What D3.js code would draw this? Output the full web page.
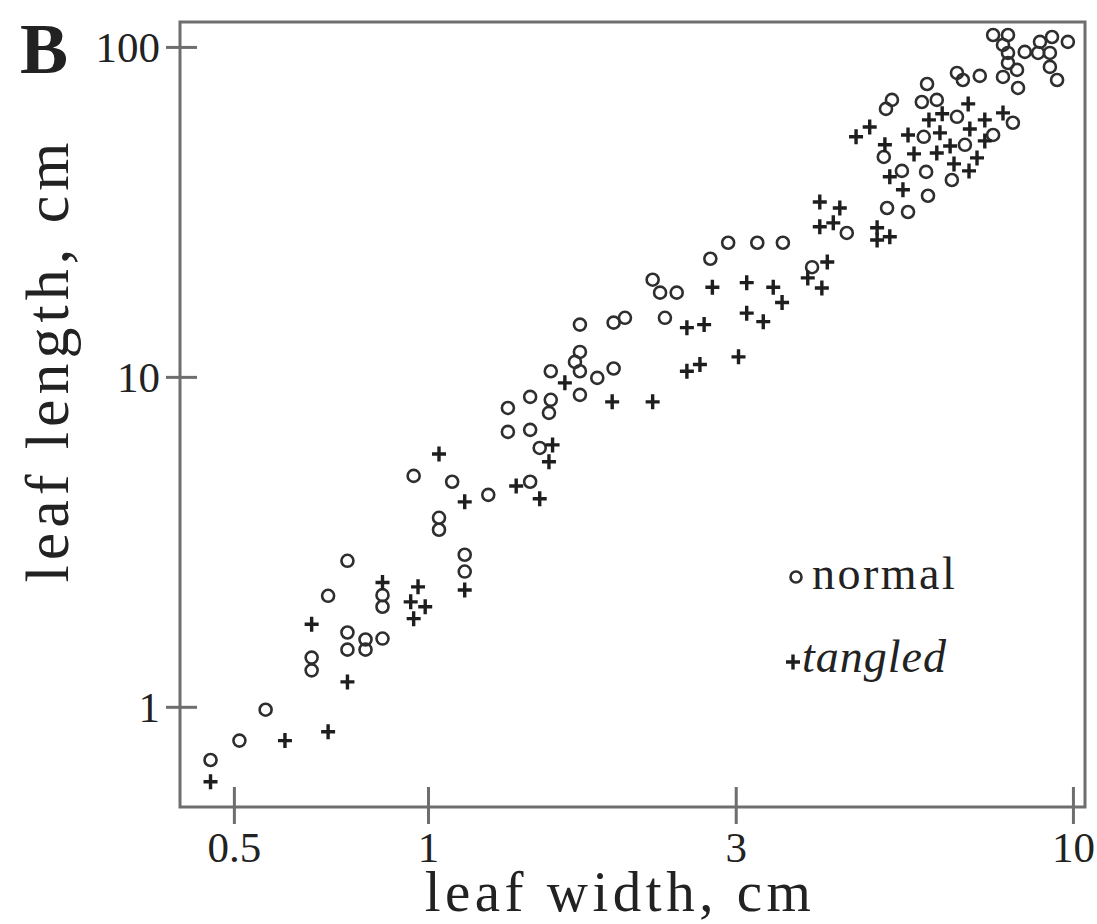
<!DOCTYPE html>
<html lang="en">
<head>
  <meta charset="UTF-8">
  <title>Leaf length vs leaf width</title>
  <script src="https://cdnjs.cloudflare.com/ajax/libs/d3/7.8.5/d3.min.js"></script>
  <style>
    body { margin: 0; background: #fff; }
    svg text { font-family: "Liberation Serif", "Times New Roman", serif; fill: #222; }
  </style>
</head>
<body>
<div id="chart"></div>
<script type="text/javascript">
  // values (cm)
  var normalWidth = [0.46, 0.51, 0.56, 0.70, 0.75, 0.66, 0.66, 0.75, 0.75, 0.80, 0.80, 0.85, 0.85, 0.85,
    1.14, 1.14, 1.04, 1.04, 0.95, 1.09, 1.24, 1.33, 1.33, 1.44, 1.44, 1.54, 1.49, 1.44, 1.55, 1.55,
    1.72, 1.69, 1.72, 1.83, 1.94, 1.72, 1.72, 1.94, 2.02, 2.23, 2.29, 2.43, 2.33, 2.74, 2.92, 3.24,
    3.55, 3.94, 4.46, 5.15, 5.13, 5.24, 5.94, 5.83, 6.15, 6.61, 6.75, 7.17, 7.79, 8.22, 6.61, 6.80,
    5.87, 5.09, 5.43, 5.92, 5.96, 6.49, 5.55, 8.07, 7.52, 7.52, 7.93, 7.79, 7.93, 8.42, 8.89, 9.28,
    9.82, 8.83, 9.21, 9.21, 9.45, 8.19, 7.93];
  var normalLength = [0.69, 0.79, 0.98, 2.17, 2.77, 1.41, 1.29, 1.68, 1.49, 1.60, 1.49, 1.61, 2.18, 2.01,
    2.89, 2.57, 3.74, 3.44, 5.01, 4.81, 4.39, 8.05, 6.81, 8.70, 6.91, 7.78, 6.09, 4.81, 10.4, 8.52,
    11.9, 11.1, 10.4, 9.93, 10.6, 8.82, 14.4, 14.6, 15.1, 19.7, 18.0, 18.0, 15.1, 22.8, 25.5, 25.5,
    25.5, 21.5, 27.3, 32.5, 64.9, 69.1, 77.2, 68.1, 69.1, 83.4, 79.4, 81.7, 81.1, 75.1, 61.4, 50.5,
    53.4, 46.4, 42.1, 41.8, 35.4, 39.5, 31.6, 58.9, 54.1, 108.7, 108.7, 101.4, 95.9, 96.6, 103.6, 107.2,
    103.6, 95.9, 95.9, 87.0, 79.4, 85.2, 89.4];

  var tangledWidth = [0.46, 0.60, 0.70, 0.66, 0.75, 0.85, 0.965, 0.94, 0.99, 0.95, 1.14, 1.04, 1.14, 1.37,
    1.49, 1.56, 1.54, 1.63, 1.93, 2.23, 2.52, 2.68, 2.76, 3.12, 3.43, 3.12, 3.31, 3.54, 3.03, 2.52,
    2.64, 4.05, 4.35, 4.05, 4.25, 4.16, 3.88, 4.08, 4.97, 4.97, 5.20, 4.61, 4.84, 5.11, 5.55, 5.67,
    5.98, 6.27, 6.88, 6.92, 6.45, 6.15, 6.54, 6.90, 7.10, 7.30, 7.30, 7.79, 5.45, 5.20, 6.22];
  var tangledLength = [0.593, 0.79, 0.84, 1.78, 1.19, 2.38, 2.31, 2.08, 2.01, 1.85, 2.26, 5.84, 4.18, 4.67,
    4.27, 6.22, 5.53, 9.59, 8.40, 8.40, 14.1, 14.4, 18.7, 19.3, 18.7, 15.6, 14.7, 16.8, 11.5, 10.4,
    10.9, 33.9, 32.5, 28.5, 29.3, 22.3, 19.95, 18.6, 28.3, 26.0, 26.6, 53.4, 57.2, 50.5, 54.1, 47.4,
    60.1, 62.7, 67.2, 56.4, 50.1, 47.7, 44.2, 42.1, 46.1, 51.9, 60.1, 63.1, 36.9, 40.4, 54.9];

  var xTicks = [0.5, 1, 3, 10];
  var yTicks = [1, 10, 100];
  var seriesNames = ["normal", "tangled"];

  var width = 1097;
  var height = 924;
  var plotLeft = 180, plotRight = 1085, plotTop = 22, plotBottom = 807;
  var ink = "#2e2e2e";
  var frame = "#6e6e6e";

  var svg = d3.select("#chart").append("svg")
    .attr("width", width)
    .attr("height", height);

  var x = d3.scaleLog().domain([0.4125, 10.44]).range([plotLeft, plotRight]);
  var y = d3.scaleLog().domain([0.497, 119]).range([plotBottom, plotTop]);

  // frame round the plot
  svg.append("rect")
    .attr("x", plotLeft)
    .attr("y", plotTop)
    .attr("width", plotRight - plotLeft)
    .attr("height", plotBottom - plotTop)
    .attr("fill", "none")
    .attr("stroke", frame)
    .attr("stroke-width", 3);

  var xAxis = svg.append("g")
    .attr("transform", "translate(0," + plotBottom + ")")
    .call(d3.axisBottom(x).tickValues(xTicks).tickFormat(function(d) { return d; }));
  xAxis.select(".domain").remove();
  xAxis.selectAll(".tick line")
    .attr("y1", -20).attr("y2", 17)
    .attr("stroke", frame).attr("stroke-width", 3);
  xAxis.selectAll(".tick text")
    .attr("y", 55).attr("dy", 0)
    .style("font-size", "43px").attr("fill", "#222");

  var yAxis = svg.append("g")
    .attr("transform", "translate(" + plotLeft + ",0)")
    .call(d3.axisLeft(y).tickValues(yTicks).tickFormat(function(d) { return d; }));
  yAxis.select(".domain").remove();
  yAxis.selectAll(".tick line")
    .attr("x1", 17).attr("x2", -14)
    .attr("stroke", frame).attr("stroke-width", 3);
  yAxis.selectAll(".tick text")
    .attr("x", -20).attr("dy", "0.33em")
    .style("font-size", "43px").attr("fill", "#222");

  // points
  var normal = normalWidth.map(function(w, i) { return {w: w, l: normalLength[i]}; });
  var tangled = tangledWidth.map(function(w, i) { return {w: w, l: tangledLength[i]}; });

  svg.append("g").selectAll("circle")
    .data(normal)
    .enter().append("circle")
    .attr("cx", function(d) { return x(d.w); })
    .attr("cy", function(d) { return y(d.l); })
    .attr("r", 6)
    .attr("fill", "none")
    .attr("stroke", ink)
    .attr("stroke-width", 2.6);

  var plus = "M-7,0H7M0,-7.5V7.5";
  svg.append("g").selectAll("path")
    .data(tangled)
    .enter().append("path")
    .attr("d", plus)
    .attr("transform", function(d) { return "translate(" + x(d.w) + "," + y(d.l) + ")"; })
    .attr("stroke", "#1e1e1e")
    .attr("stroke-width", 3.4);

  // legend
  var legend = svg.append("g");
  legend.append("circle")
    .attr("cx", 796).attr("cy", 577).attr("r", 5.5)
    .attr("fill", "none").attr("stroke", ink).attr("stroke-width", 2.6);
  legend.append("text")
    .attr("x", 812).attr("y", 589)
    .style("font-size", "46px").style("letter-spacing", "2.5px")
    .text(seriesNames[0]);
  legend.append("path")
    .attr("d", plus)
    .attr("transform", "translate(793,662)")
    .attr("stroke", "#1e1e1e").attr("stroke-width", 3.4);
  legend.append("text")
    .attr("x", 802).attr("y", 672)
    .style("font-size", "46px").style("font-style", "italic").style("letter-spacing", "1px")
    .text(seriesNames[1]);

  // axis titles
  svg.append("text")
    .attr("x", 620).attr("y", 911)
    .attr("text-anchor", "middle")
    .style("font-size", "57px").style("letter-spacing", "4.5px")
    .text("leaf width, cm");

  svg.append("text")
    .attr("transform", "translate(68,360) rotate(-90)")
    .attr("text-anchor", "middle")
    .style("font-size", "62px").style("letter-spacing", "5px")
    .text("leaf length, cm");

  svg.append("text")
    .attr("x", 20).attr("y", 73)
    .style("font-size", "72px").style("font-weight", "bold")
    .text("B");
</script>
</body>
</html>
